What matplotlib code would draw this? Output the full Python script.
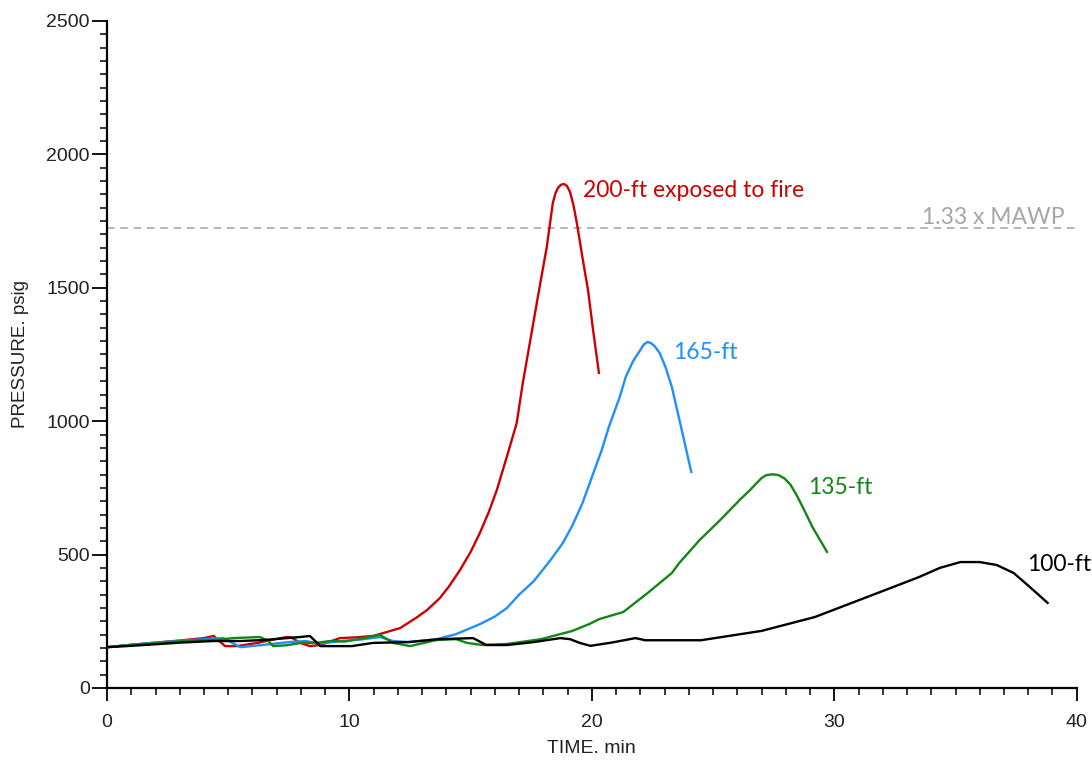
import matplotlib
matplotlib.use("Agg")
import matplotlib.pyplot as plt
from matplotlib.ticker import MultipleLocator

# Pressure histories (time in min, pressure in psig) for four vessel elevations
t_200 = [0, 1, 2, 3, 4, 4.4, 4.87, 5.36, 6.2, 7.0, 7.4, 7.6, 7.96, 8.37, 8.8, 9.6, 10.3, 10.97,
         11.4, 12.1, 12.8, 13.2, 13.73, 14.1, 14.56, 15.0, 15.38, 15.75, 16.08, 16.54, 16.9, 17.15,
         17.44, 17.77, 18.14, 18.39, 18.5, 18.6, 18.72, 18.85, 18.97, 19.1, 19.24, 19.38, 19.63,
         19.84, 20.05, 20.29]
p_200 = [153, 162, 170, 178, 187, 195, 157, 157, 169, 184, 191, 190, 169, 157, 161, 187, 190, 195,
         206, 225, 266, 292, 337, 380, 442, 510, 581, 660, 742, 881, 993, 1143,
         1293, 1465, 1653, 1818, 1855, 1874, 1886, 1889, 1882, 1859, 1810, 1743, 1604,
         1492, 1342, 1181]

t_165 = [0, 1, 2, 3, 4, 4.8, 5.5, 6.4, 7.5, 8.2, 8.8, 9.6, 10.5, 11.26, 11.8, 12.5, 13.6, 14.4,
         15.4, 16.0, 16.5, 17.0, 17.6, 18.3, 18.8, 19.2, 19.6, 20.0, 20.4, 20.7, 21.15, 21.4, 21.7,
         22.0, 22.15, 22.3, 22.45, 22.6, 22.8, 23.05, 23.3, 23.7, 24.1]
p_165 = [153, 162, 170, 177, 183, 187, 153, 161, 172, 176, 166, 176, 182, 191, 176, 172, 183, 202,
         240, 268, 300, 350, 400, 480, 543, 610, 690, 790, 890, 978, 1091, 1166, 1225,
         1267, 1288, 1297, 1292, 1280, 1255, 1200, 1128, 970, 810]

t_135 = [0, 1, 2, 3, 4, 4.5, 5.2, 6.3, 6.6, 6.85, 7.4, 8.0, 8.6, 9.2, 9.8, 10.5, 11.26, 11.8, 12.5,
         13.6, 14.4, 14.85, 15.5, 16.5, 17.9, 19.2, 19.9, 20.3, 21.3, 22.3, 23.3, 23.6, 24.45, 25.3,
         26.1, 26.5, 26.8, 27.0, 27.2, 27.45, 27.7, 27.95, 28.2, 28.45, 28.7, 29.1, 29.7]
p_135 = [153, 161, 168, 175, 180, 180, 187, 191, 180, 157, 160, 169, 169, 176, 174, 185, 199, 169, 157,
         180, 183, 169, 161, 165, 183, 214, 240, 258, 285, 356, 431, 468, 555, 630,
         705, 740, 768, 787, 798, 801, 798, 785, 761, 722, 678, 603, 510]

t_100 = [0, 1, 2, 3, 4.37, 5.5, 6.5, 7.96, 8.37, 8.8, 10.1, 10.97, 12.4, 13.7, 15.1, 15.65, 16.5,
         17.6, 18.7, 19.1, 19.5, 19.94, 20.8, 21.8, 22.2, 24.5, 27.0, 29.2, 31.9, 33.5, 34.35,
         35.2, 36.0, 36.7, 37.4, 38.06, 38.8]
p_100 = [153, 158, 164, 170, 176, 176, 180, 191, 195, 157, 157, 169, 172, 183, 187, 161, 161,
         172, 187, 183, 169, 158, 170, 187, 179, 179, 214, 266, 360, 416, 450,
         472, 472, 461, 431, 379, 319]

# Over-pressure reference level
mawp_limit = 1725

series = [
    (t_200, p_200, "#cc0000", "200-ft exposed to fire", 19.63, 1866),
    (t_165, p_165, "#1e8fff", "165-ft", 23.34, 1259),
    (t_135, p_135, "#138613", "135-ft", 28.9, 753),
    (t_100, p_100, "#000000", "100-ft", 37.94, 461),
]

fig = plt.figure(figsize=(10.92, 7.63), dpi=100)
ax = fig.add_axes([0.098, 0.0983, 0.888, 0.8742])

ax.axhline(mawp_limit, color="#a8a8a8", lw=1.2, ls=(0, (4.5, 3.5)), zorder=1)
ax.text(39.5, mawp_limit + 40, "1.33 x MAWP", color="#a6a6a6", fontsize=16.5,
        family="Lato", ha="right", va="center")

for t, p, c, label, lx, ly in series:
    ax.plot(t, p, color=c, lw=1.7, zorder=3, solid_joinstyle="round")
    ax.text(lx, ly, label, color=c, fontsize=16.5, family="Lato", ha="left", va="center")

ax.set_xlim(0, 40)
ax.set_ylim(0, 2500)
ax.xaxis.set_major_locator(MultipleLocator(10))
ax.xaxis.set_minor_locator(MultipleLocator(1))
ax.yaxis.set_major_locator(MultipleLocator(500))
ax.yaxis.set_minor_locator(MultipleLocator(50))

for s in ("top", "right"):
    ax.spines[s].set_visible(False)
for s in ("left", "bottom"):
    ax.spines[s].set_linewidth(1.6)
    ax.spines[s].set_color("black")

ax.tick_params(axis="x", which="major", length=9.5, width=1.3, labelsize=14, pad=9,
               labelcolor="#222222")
ax.tick_params(axis="x", which="minor", length=5, width=1.1)
ax.tick_params(axis="y", which="major", length=10.5, width=1.3, labelsize=14, pad=2,
               labelcolor="#222222")
ax.tick_params(axis="y", which="minor", length=5, width=1.1)
for lab in ax.get_xticklabels() + ax.get_yticklabels():
    lab.set_family("Liberation Sans")

ax.set_xlabel("TIME. min", fontsize=14, family="Liberation Sans", labelpad=7, color="#222222")
ax.set_ylabel("PRESSURE. psig", fontsize=13.5, family="Liberation Sans", labelpad=12,
              color="#222222")

fig.savefig("out.png", dpi=100)
